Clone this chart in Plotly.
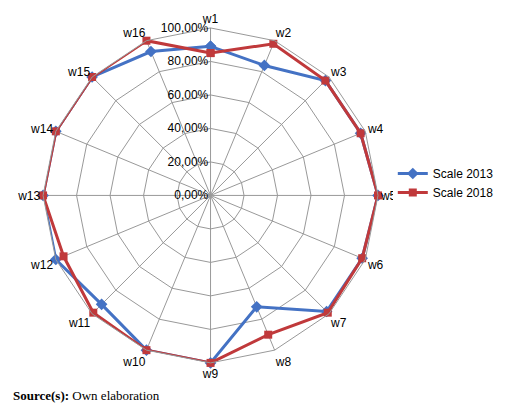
import plotly.graph_objects as go

categories = ["w1","w2","w3","w4","w5","w6","w7","w8","w9","w10","w11","w12","w13","w14","w15","w16"]
scale_2013 = [0.89,0.84,0.97,0.97,1.0,0.98,0.98,0.72,1.0,1.0,0.92,1.0,1.0,1.0,1.0,0.93]
scale_2018 = [0.85,0.98,0.97,0.97,1.0,0.98,0.99,0.90,1.0,1.0,0.99,0.95,1.0,1.0,1.0,1.0]
tick_vals = [0,0.2,0.4,0.6,0.8,1.0]
tick_text = ["0,00%","20,00%","40,00%","60,00%","80,00%","100,00%"]

def closed(a):
    return a + a[:1]

fig = go.Figure()
fig.add_trace(go.Scatterpolar(r=closed(scale_2013), theta=closed(categories), name="Scale 2013",
    mode="lines+markers", line=dict(color="#4472C4", width=3),
    marker=dict(symbol="diamond", size=9, color="#4472C4")))
fig.add_trace(go.Scatterpolar(r=closed(scale_2018), theta=closed(categories), name="Scale 2018",
    mode="lines+markers", line=dict(color="#C0393B", width=3),
    marker=dict(symbol="square", size=8, color="#C0393B")))

fig.update_layout(
    width=520, height=407, paper_bgcolor="white", plot_bgcolor="white",
    margin=dict(l=0, r=0, t=0, b=0),
    font=dict(family="Liberation Serif", size=12, color="black"),
    polar=dict(
        domain=dict(x=[0.067,0.712], y=[0.128,0.951]),
        gridshape="linear", bgcolor="white",
        radialaxis=dict(range=[0,1], tickvals=tick_vals, ticktext=tick_text, angle=90,
            tickangle=90, side="counterclockwise", showline=False, gridcolor="#999999",
            gridwidth=1, ticks="", tickfont=dict(size=12, family="Liberation Sans")),
        angularaxis=dict(rotation=90, direction="clockwise", gridcolor="#999999",
            linecolor="#999999", ticks="", tickfont=dict(size=12, family="Liberation Sans")),
    ),
    legend=dict(x=0.74, y=0.57, xanchor="left", yanchor="middle",
        font=dict(size=12, family="Liberation Sans")),
    annotations=[dict(x=0.005, y=0.025, xref="paper", yref="paper", xanchor="left", yanchor="bottom",
        showarrow=False, text="<b>Source(s):</b> Own elaboration", font=dict(size=13, family="Liberation Serif"))],
)
fig.write_html("out.html")
